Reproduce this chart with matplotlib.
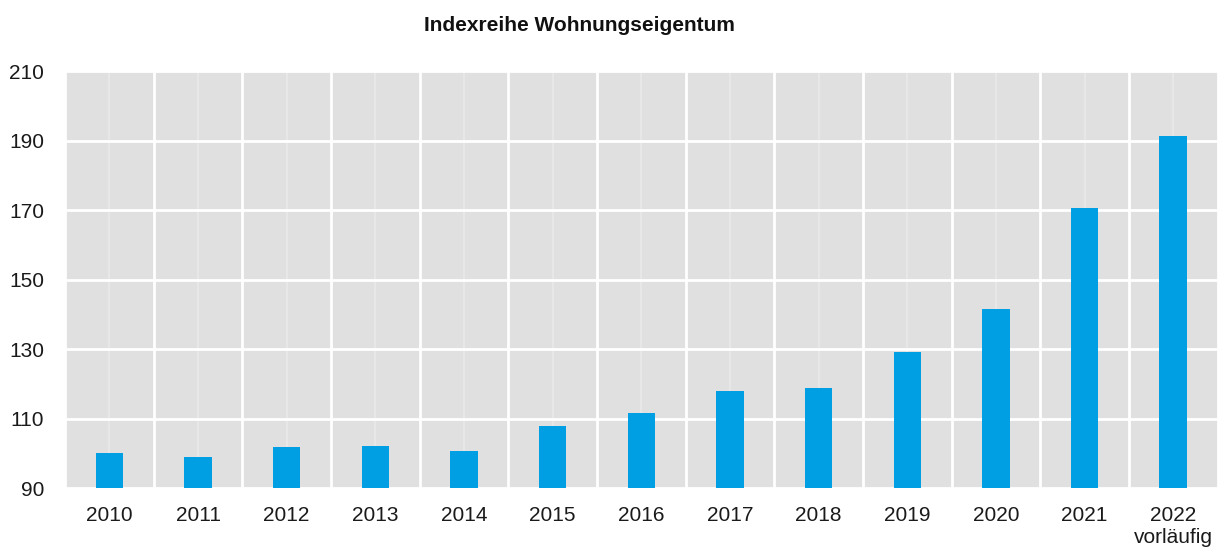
import matplotlib
matplotlib.use("Agg")
import matplotlib.pyplot as plt
import numpy as np

plt.rcParams["font.family"] = ["Liberation Sans", "DejaVu Sans"]

# data
years = ["2010", "2011", "2012", "2013", "2014", "2015", "2016",
         "2017", "2018", "2019", "2020", "2021", "2022\nvorläufig"]
index_values = [100.0, 99.0, 101.8, 102.1, 100.8, 107.8, 111.5,
                117.9, 118.8, 129.2, 141.5, 170.5, 191.5]
y_ticks = [90, 110, 130, 150, 170, 190, 210]

BAR_COLOR = "#009fe3"
BG_COLOR = "#e0e0e0"

fig = plt.figure(figsize=(12.2, 5.53), dpi=100)
ax = fig.add_axes([0.0533, 0.1175, 0.9447, 0.7535])
ax.set_facecolor(BG_COLOR)

x = np.arange(len(years))
ax.bar(x, np.array(index_values) - 90, bottom=90, width=0.31,
       color=BAR_COLOR, zorder=3)

# white grid: horizontal at ticks, vertical at category boundaries
for yv in y_ticks:
    ax.axhline(yv, color="white", linewidth=2.0, zorder=1)
for xb in np.arange(-0.5, len(years) + 0.5, 1.0):
    ax.axvline(xb, color="white", linewidth=2.0, zorder=1)
# faint lines at category centres
for xc in x:
    ax.axvline(xc, color="white", linewidth=1.5, alpha=0.25, zorder=1)

ax.set_xlim(-0.5, len(years) - 0.5)
ax.set_ylim(90, 210)
ax.set_yticks(y_ticks)
ax.set_xticks(x)
ax.set_xticklabels(years)
ax.tick_params(axis="both", length=0, labelsize=15, colors="#1a1a1a")
ax.tick_params(axis="y", pad=15)
ax.tick_params(axis="x", pad=13)
for spine in ax.spines.values():
    spine.set_visible(False)

fig.text(0.475, 0.953, "Indexreihe Wohnungseigentum", ha="center", va="center",
         fontsize=15, fontweight="bold", color="#111111")

fig.savefig("out.png", dpi=100)
